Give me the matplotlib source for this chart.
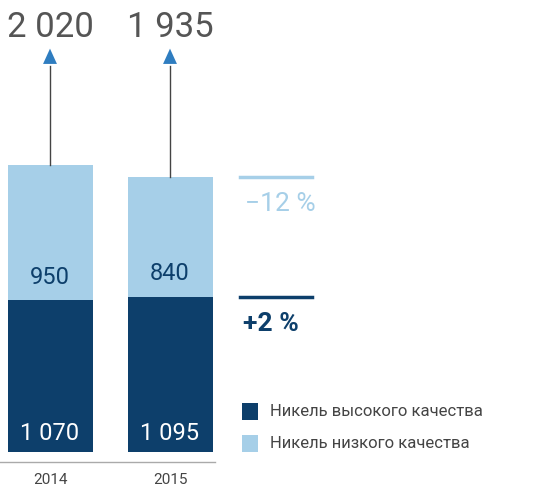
import matplotlib
matplotlib.use("Agg")
import matplotlib.pyplot as plt

years = ["2014", "2015"]
high = [1070, 1095]
low = [950, 840]
totals = ["2 020", "1 935"]
high_lbl = ["1 070", "1 095"]
low_lbl = ["950", "840"]
changes = ["−12 %", "+2 %"]
legend = ["Никель высокого качества", "Никель низкого качества"]

dark = "#0d3f6b"
light = "#a6cfe8"
blue = "#2f7dc0"
plt.rcParams['font.family'] = ['Roboto', 'DejaVu Sans']

fig = plt.figure(figsize=(5.47, 4.99), dpi=100)
ax = fig.add_axes([0, 0, 1, 1])
ax.set_xlim(0, 547)
ax.set_ylim(-331, 3183)
ax.axis("off")

xs = [50, 170]
w = 85
for i, x in enumerate(xs):
    ax.bar(x, high[i], w, color=dark)
    ax.bar(x, low[i], w, bottom=high[i], color=light)
    ax.text(x, 130, high_lbl[i], ha="center", va="center", color="white", fontsize=17)
    ax.text(x, high[i] + 160, low_lbl[i], ha="center", va="center", color=dark, fontsize=17)
    tot = high[i] + low[i]
    ax.plot([x, x], [tot, 2720], color="#444444", lw=1)
    ax.annotate("", xy=(x, 2860), xytext=(x, 2700),
                arrowprops=dict(arrowstyle="-|>,head_width=0.5,head_length=1.1", color=blue, lw=0))
    ax.text(x, 2990, totals[i], ha="center", va="center", color="#555555", fontsize=25)
    ax.text(x, -195, years[i], ha="center", va="center", color="#444444", fontsize=11)

ax.plot([0, 215], [-70, -70], color="#aaaaaa", lw=1)

# change indicators
ax.plot([240, 312], [high[1] + low[1]] * 2, color=light, lw=2.5)
ax.text(245, high[1] + low[1] - 190, changes[0], ha="left", va="center", color=light, fontsize=19)
ax.plot([240, 312], [high[1]] * 2, color=dark, lw=2.5)
ax.text(243, high[1] - 195, changes[1], ha="left", va="center", color=dark, fontsize=19, fontweight="bold")

# legend
for j, (lab, c) in enumerate(zip(legend, [dark, light])):
    yv = 282 - j * 225
    ax.bar(250, 120, 16, bottom=yv - 60, color=c)
    ax.text(270, yv, lab, ha="left", va="center", color="#444444", fontsize=12)

fig.savefig("out.png", dpi=100)
